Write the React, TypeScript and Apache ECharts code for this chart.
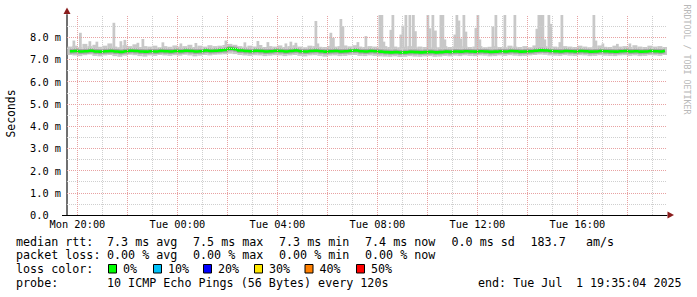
import React, { useEffect, useRef } from 'react';
import * as echarts from 'echarts';

// time axis in hours since Mon 00:00 (start Mon 19:35:04, end Tue 19:35:04)
const START_HOUR = 19.5844;
const END_HOUR = 43.5844;
const BIN_START = 19.6;
const BIN_HOURS = 0.2;

// median RTT per 12-minute bin (ms)
const medianMs = [
  7.37, 7.38, 7.36, 7.37, 7.39, 7.36, 7.35, 7.37, 7.38, 7.36, 7.34, 7.37, 7.39, 7.38, 7.36, 7.35, 7.37, 7.36, 7.38, 7.37,
  7.36, 7.38, 7.37, 7.39, 7.38, 7.36, 7.37, 7.40, 7.38, 7.39, 7.41, 7.43, 7.48, 7.46, 7.40, 7.38, 7.37, 7.39, 7.38, 7.36,
  7.37, 7.39, 7.38, 7.36, 7.38, 7.40, 7.37, 7.36, 7.38, 7.39, 7.37, 7.35, 7.37, 7.38, 7.36, 7.37, 7.39, 7.40, 7.37, 7.36,
  7.38, 7.37, 7.35, 7.33, 7.32, 7.33, 7.31, 7.32, 7.34, 7.33, 7.32, 7.33, 7.34, 7.32, 7.33, 7.35, 7.34, 7.36, 7.35, 7.37,
  7.36, 7.35, 7.37, 7.36, 7.34, 7.35, 7.37, 7.36, 7.38, 7.37, 7.35, 7.36, 7.37, 7.39, 7.41, 7.40, 7.38, 7.37, 7.36, 7.38,
  7.37, 7.36, 7.38, 7.37, 7.35, 7.36, 7.38, 7.37, 7.36, 7.35, 7.37, 7.38, 7.36, 7.37, 7.35, 7.36, 7.38, 7.37, 7.36, 7.39,
];

// upper edge of the ping smoke per bin (ms)
const smokeHighMs = [
  7.58, 7.62, 7.55, 7.70, 7.60, 7.66, 7.57, 7.62, 7.72, 7.58, 7.55, 7.64, 7.60, 7.68, 7.56, 7.60, 7.58, 7.62, 7.55, 7.60,
  7.57, 7.63, 7.58, 7.60, 7.66, 7.56, 7.62, 7.58, 7.64, 7.60, 7.62, 7.65, 7.70, 7.66, 7.60, 7.57, 7.62, 7.58, 7.65, 7.56,
  7.60, 7.58, 7.63, 7.56, 7.60, 7.64, 7.58, 7.55, 7.62, 7.60, 7.57, 7.56, 7.61, 7.58, 7.60, 7.63, 7.59, 7.64, 7.58, 7.56,
  7.60, 7.58, 7.55, 7.60, 7.56, 7.58, 7.55, 7.57, 7.60, 7.55, 7.58, 7.56, 7.54, 7.57, 7.55, 7.60, 7.56, 7.58, 7.55, 7.60,
  7.56, 7.58, 7.60, 7.55, 7.57, 7.60, 7.56, 7.55, 7.62, 7.58, 7.56, 7.60, 7.55, 7.63, 7.62, 7.60, 7.57, 7.58, 7.56, 7.60,
  7.58, 7.56, 7.62, 7.58, 7.55, 7.60, 7.63, 7.57, 7.56, 7.62, 7.58, 7.60, 7.56, 7.64, 7.58, 7.56, 7.62, 7.58, 7.60, 7.56,
];

// lower edge of the ping smoke per bin (ms)
const smokeLowMs = [
  7.20, 7.18, 7.15, 7.19, 7.22, 7.16, 7.14, 7.18, 7.20, 7.15, 7.12, 7.17, 7.21, 7.19, 7.15, 7.13, 7.18, 7.16, 7.20, 7.18,
  7.16, 7.19, 7.17, 7.21, 7.18, 7.14, 7.17, 7.20, 7.18, 7.21, 7.22, 7.23, 7.26, 7.24, 7.20, 7.18, 7.16, 7.19, 7.18, 7.15,
  7.17, 7.19, 7.18, 7.15, 7.18, 7.20, 7.16, 7.14, 7.18, 7.19, 7.16, 7.13, 7.17, 7.18, 7.15, 7.16, 7.19, 7.20, 7.16, 7.15,
  7.18, 7.16, 7.14, 7.13, 7.12, 7.14, 7.11, 7.12, 7.15, 7.13, 7.12, 7.14, 7.15, 7.12, 7.13, 7.16, 7.14, 7.17, 7.15, 7.18,
  7.16, 7.15, 7.18, 7.17, 7.14, 7.15, 7.18, 7.16, 7.19, 7.17, 7.15, 7.16, 7.18, 7.20, 7.22, 7.21, 7.18, 7.17, 7.16, 7.19,
  7.17, 7.16, 7.19, 7.18, 7.15, 7.16, 7.19, 7.17, 7.16, 7.15, 7.18, 7.19, 7.16, 7.18, 7.15, 7.16, 7.19, 7.18, 7.16, 7.20,
];

// slow single pings: [hour, rtt ms]
const spikeHours = [
  19.86, 20.12, 20.50, 20.78, 21.46, 21.74, 21.90, 22.42, 22.62, 23.42, 24.14, 24.74, 25.94, 26.70, 27.22, 27.62,
  28.34, 28.54, 28.74, 29.54, 29.62, 30.14, 30.24, 30.54, 30.62, 31.22, 31.54, 32.10, 32.18, 32.26, 32.54, 32.62,
  32.94, 33.02, 33.14, 33.30, 33.44, 33.52, 34.02, 34.10, 34.22, 34.32, 34.54, 34.62, 34.70, 35.10, 35.18, 35.26,
  35.34, 35.46, 35.54, 35.94, 36.02, 36.10, 36.62, 36.74, 37.10, 37.50, 38.38, 38.46, 38.54, 38.62, 38.70, 38.86,
  38.94, 39.30, 39.38, 40.66, 40.74, 41.02, 41.60, 42.10,
];
const spikeMs = [
  7.85, 8.20, 7.82, 7.80, 8.65, 7.82, 7.88, 7.75, 7.92, 7.77, 7.72, 7.74, 7.85, 7.77, 7.83, 7.78,
  7.72, 7.80, 7.75, 8.73, 7.72, 8.20, 7.97, 8.82, 8.50, 7.78, 8.05, 9.60, 9.60, 7.80, 8.33, 9.60,
  8.12, 8.52, 9.60, 9.60, 9.60, 8.27, 9.60, 8.40, 9.60, 8.30, 9.60, 9.60, 7.90, 8.12, 9.60, 8.75,
  7.94, 9.60, 8.25, 8.42, 9.60, 7.90, 8.48, 9.60, 9.60, 9.60, 8.38, 9.60, 9.60, 9.60, 7.90, 9.60,
  8.60, 7.78, 9.60, 9.60, 7.85, 7.72, 7.70, 7.72,
];

const xLabelHours = [20, 24, 28, 32, 36, 40];
const majorGridHours = [20, 22, 24, 26, 28, 30, 32, 34, 36, 38, 40, 42];
const minorGridHours = [21, 23, 25, 27, 29, 31, 33, 35, 37, 39, 41, 43];
const majorGridMs = [1, 2, 3, 4, 5, 6, 7, 8];
const minorGridMs = [0.5, 1.5, 2.5, 3.5, 4.5, 5.5, 6.5, 7.5, 8.5];

const rttStats = ['7.3 ms avg', '7.5 ms max', '7.3 ms min', '7.4 ms now', '0.0 ms sd', '183.7', 'am/s'];
const lossStats = ['0.00 % avg', '0.00 % max', '0.00 % min', '0.00 % now'];
const lossLabels = ['0%', '10%', '20%', '30%', '40%', '50%'];
const lossColors = ['#00ff00', '#00c0f8', '#0000ff', '#ffe800', '#ff8000', '#ff0000'];
const probeText = '10 ICMP Echo Pings (56 Bytes) every 120s';
const endText = ['end: Tue Jul', '1 19:35:04 2025'];

const MONO = '"DejaVu Sans Mono", monospace';
const LEG_FONT = `11.7px ${MONO}`;

function hourLabel(h: number) {
  const day = h < 24 ? 'Mon' : 'Tue';
  const hh = Math.round(h % 24);
  return `${day} ${hh < 10 ? '0' + hh : hh}:00`;
}

function t(text: string, x: number, y: number) {
  return {
    type: 'text', x, y, silent: true,
    style: { text, fill: '#000', font: LEG_FONT, align: 'left', verticalAlign: 'middle' },
  };
}

export default function App() {
  const ref = useRef<HTMLDivElement>(null);
  useEffect(() => {
    if (!ref.current) return;
    const chart = echarts.init(ref.current, null, { renderer: 'svg' });

    const smokeData = medianMs.map((_, i) => [BIN_START + i * BIN_HOURS, smokeLowMs[i], smokeHighMs[i]]);
    const medianData = medianMs.map((v, i) => [BIN_START + (i + 0.5) * BIN_HOURS, v]);
    const spikeData = spikeHours.map((h, i) => [h, spikeMs[i]]);

    const rttX = [107, 193, 279, 365, 451.5, 530.5, 586];
    const boxX = [108.5, 153.5, 203.5, 254.5, 305, 356.5];

    const graphics: any[] = [];
    graphics.push(t('median rtt:', 16, 241.5));
    rttStats.forEach((s, i) => graphics.push(t(s, rttX[i], 241.5)));
    graphics.push(t('packet loss:', 16, 255.2));
    lossStats.forEach((s, i) => graphics.push(t(s, rttX[i], 255.2)));
    graphics.push(t('loss color:', 16, 269));
    lossLabels.forEach((s, i) => {
      graphics.push({
        type: 'rect', silent: true,
        shape: { x: boxX[i], y: 264.5, width: 8, height: 8.5 },
        style: { fill: lossColors[i], stroke: '#000', lineWidth: 1 },
      });
      graphics.push(t(s, boxX[i] + 14.5, 269));
    });
    graphics.push(t('probe:', 16, 282.7));
    graphics.push(t(probeText, 107, 282.7));
    graphics.push(t(endText[0], 478, 282.7));
    graphics.push(t(endText[1], 576, 282.7));
    graphics.push({
      type: 'text', x: 10.5, y: 113.5, rotation: Math.PI / 2, silent: true,
      style: { text: 'Seconds', fill: '#000', font: `11.4px ${MONO}`, align: 'center', verticalAlign: 'middle' },
    });
    graphics.push({
      type: 'text', x: 686.5, y: 59.5, rotation: -Math.PI / 2, silent: true,
      style: { text: 'RRDTOOL / TOBI OETIKER', fill: '#b8b8b8', font: `8.3px ${MONO}`, align: 'center', verticalAlign: 'middle' },
    });
    graphics.push({
      type: 'polygon', silent: true, z: 100,
      shape: { points: [[67, 7.5], [63.5, 14], [70.5, 14]] },
      style: { fill: '#8a1c1c' },
    });
    graphics.push({
      type: 'polygon', silent: true, z: 100,
      shape: { points: [[674, 215], [667.5, 211.5], [667.5, 218.5]] },
      style: { fill: '#8a1c1c' },
    });
    graphics.push({
      type: 'line', silent: true, z: 100,
      shape: { x1: 62, y1: 215.5, x2: 67, y2: 215.5 },
      style: { stroke: '#000', lineWidth: 1 },
    });

    const gridSeries = (name: string, items: any[], color: string) => ({
      name, type: 'line', data: [], z: 1, silent: true,
      markLine: {
        symbol: ['none', 'none'], silent: true, animation: false,
        label: { show: false },
        lineStyle: { color, width: 1, type: [1, 1] },
        data: items,
      },
    });

    chart.setOption({
      animation: false,
      backgroundColor: '#ffffff',
      grid: { left: 67, top: 15, width: 600, height: 200, containLabel: false, outerBoundsMode: 'none' },
      xAxis: {
        type: 'value', min: START_HOUR, max: END_HOUR,
        axisLine: { show: true, lineStyle: { color: '#000', width: 1 } },
        axisTick: { show: false },
        splitLine: { show: false },
        axisLabel: {
          customValues: xLabelHours,
          formatter: (v: number) => hourLabel(v),
          color: '#000', fontFamily: '"DejaVu Sans Mono"', fontSize: 10.3, margin: 4,
        },
      },
      yAxis: {
        type: 'value', min: 0, max: 9, interval: 1,
        axisLine: { show: true, lineStyle: { color: '#707070', width: 2 } },
        axisTick: { show: false },
        splitLine: { show: false },
        axisLabel: {
          formatter: (v: number) => (v === 0 ? '0.0' : v >= 9 ? '' : v.toFixed(1) + ' m'),
          color: '#000', fontFamily: '"DejaVu Sans Mono"', fontSize: 10.3, margin: 37, align: 'left',
        },
      },
      series: [
        gridSeries('minorX', minorGridHours.map((h) => ({ xAxis: h })), '#cfcfcf'),
        gridSeries('minorY', minorGridMs.map((v) => ({ yAxis: v })), '#cfcfcf'),
        gridSeries('majorX', majorGridHours.map((h) => ({ xAxis: h })), '#e8a2a2'),
        gridSeries('majorY', majorGridMs.map((v) => ({ yAxis: v })), '#e8a2a2'),
        {
          name: 'spikes', type: 'custom', z: 2, clip: true, silent: true,
          data: spikeData,
          renderItem: (params: any, api: any) => {
            const h = api.value(0);
            const p0 = api.coord([h - 0.055, api.value(1)]);
            const p1 = api.coord([h + 0.055, 7.45]);
            return {
              type: 'rect',
              shape: { x: p0[0], y: p0[1], width: p1[0] - p0[0], height: p1[1] - p0[1] },
              style: { fill: '#c8c8c8' },
            };
          },
        },
        {
          name: 'smoke', type: 'custom', z: 2, clip: true, silent: true,
          data: smokeData,
          renderItem: (params: any, api: any) => {
            const h = api.value(0);
            const p0 = api.coord([h, api.value(2)]);
            const p1 = api.coord([h + BIN_HOURS, api.value(1)]);
            return {
              type: 'rect',
              shape: { x: p0[0], y: p0[1], width: p1[0] - p0[0], height: p1[1] - p0[1] },
              style: { fill: '#c8c8c8' },
            };
          },
        },
        {
          name: 'medianShade', type: 'line', z: 3, silent: true, step: 'middle',
          data: medianData, showSymbol: false, symbol: 'none',
          lineStyle: { color: '#8a8a8a', width: 5, opacity: 0.6 },
        },
        {
          name: 'median', type: 'line', z: 4, silent: true, step: 'middle',
          data: medianData, showSymbol: false, symbol: 'none',
          lineStyle: { color: '#00ff00', width: 2.6 },
        },
      ],
      graphic: graphics,
    });
    return () => chart.dispose();
  }, []);
  return <div ref={ref} style={{ position: 'absolute', left: 0, top: 0, width: 697, height: 297 }} />;
}
